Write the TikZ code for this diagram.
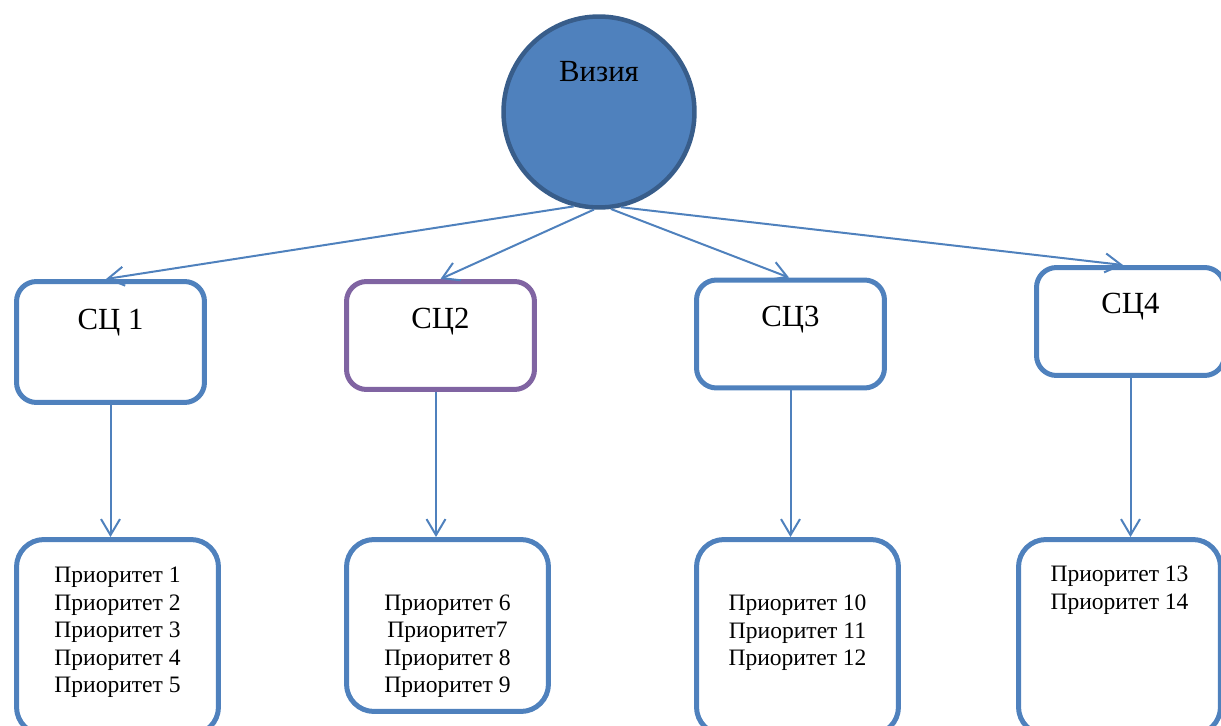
\documentclass[tikz,border=0pt]{standalone}
\usepackage{fontspec}
\setmainfont{Liberation Serif}
\usetikzlibrary{positioning,arrows.meta}
\definecolor{ofblue}{HTML}{4F81BD}
\definecolor{ofdark}{HTML}{385D8A}
\definecolor{ofpurple}{HTML}{8064A2}

\begin{document}
\begin{tikzpicture}[x=0.02cm,y=-0.02cm,
  vision/.style={circle,draw=ofdark,fill=ofblue,line width=0.09cm,minimum size=3.82cm,inner sep=0pt},
  scbox/.style={draw=ofblue,line width=0.1cm,rounded corners=0.4cm,minimum width=3.76cm,minimum height=2.16cm},
  priobox/.style={draw=ofblue,line width=0.1cm,rounded corners=0.55cm,minimum width=4.04cm,minimum height=3.9cm},
  big/.style={inner sep=0pt,font=\fontsize{17.5}{21}\selectfont},
  prio/.style={inner sep=0pt,align=center,font=\fontsize{13.4}{15.65}\selectfont},
  conn/.style={draw=ofblue,line width=0.04cm,-{Straight Barb[length=0.32cm,width=0.38cm]}},
  ]
  \useasboundingbox (0,0) rectangle (1221,726);

  % root
  \node[vision] (vis) at (599,112) {};
  \node[big, below=0.94cm of vis.north] (vistext) {Визия};

  % level 1
  \node[scbox, minimum height=2.42cm] (sc1) at (110.5,342) {};
  \node[scbox, draw=ofpurple] (sc2) at (440.5,335.5) {};
  \node[scbox] (sc3) at (790.5,334) {};
  \node[scbox] (sc4) at (1130.5,321.5) {};
  \node[big, below=0.6cm of sc1.north] (sc1text) {СЦ 1};
  \node[big, below=0.57cm of sc2.north] (sc2text) {СЦ2};
  \node[big, below=0.57cm of sc3.north] (sc3text) {СЦ3};
  \node[big, below=0.56cm of sc4.north] (sc4text) {СЦ4};

  % level 2
  \node[priobox] (p1) at (117.5,637) {};
  \node[priobox, minimum height=3.44cm] (p2) at (447.5,625.5) {};
  \node[priobox] (p3) at (797.5,637) {};
  \node[priobox] (p4) at (1119.5,637) {};
  \node[prio, below=0.6cm of p1.north] (p1text)
    {Приоритет 1\\Приоритет 2\\Приоритет 3\\Приоритет 4\\Приоритет 5};
  \node[prio, below=1.15cm of p2.north] (p2text)
    {Приоритет 6\\Приоритет7\\Приоритет 8\\Приоритет 9};
  \node[prio, below=1.15cm of p3.north] (p3text)
    {Приоритет 10\\Приоритет 11\\Приоритет 12};
  \node[prio, below=0.58cm of p4.north] (p4text)
    {Приоритет 13\\Приоритет 14};

  % edges root -> level 1
  \draw[conn] (vis.-105) -- ([xshift=-0.09cm]sc1.north);
  \draw[conn] (vis.-93) -- (sc2.north);
  \draw[conn] (vis.-83) -- ([xshift=-0.03cm]sc3.north);
  \draw[conn] (vis.-77) -- ([xshift=-0.15cm]sc4.north);

  % edges level 1 -> level 2
  \draw[conn] (sc1.south) -- (sc1.south |- p1.north);
  \draw[conn] ([xshift=-0.09cm]sc2.south) -- ([xshift=-0.09cm]sc2.south |- p2.north);
  \draw[conn] (sc3.south) -- (sc3.south |- p3.north);
  \draw[conn] (sc4.south) -- (sc4.south |- p4.north);
\end{tikzpicture}
\end{document}
